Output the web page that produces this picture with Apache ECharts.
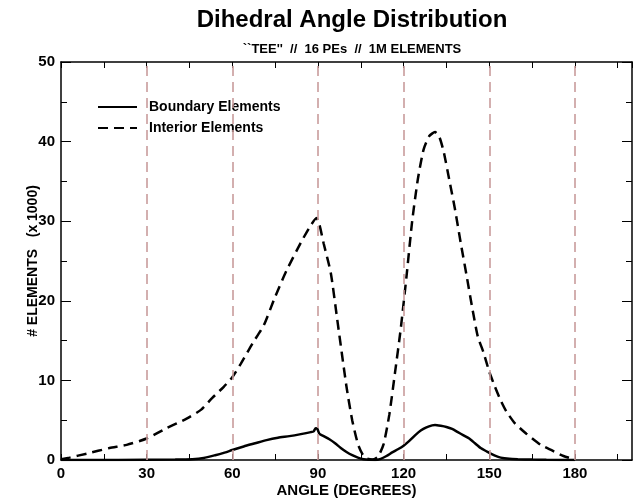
<!DOCTYPE html>
<html>
<head>
<meta charset="utf-8">
<script src="https://cdn.jsdelivr.net/npm/echarts@6/dist/echarts.min.js"></script>
<style>
  html, body { margin: 0; padding: 0; background: #fff; }
  #chart { width: 641px; height: 503px; }
</style>
</head>
<body>
<div id="chart"></div>
<script>
  // values (angle in degrees, count x 1000)
  var boundaryAngles = [0, 20, 40, 46, 50, 54, 57, 60, 64, 68, 72, 76, 80, 84, 87.5, 88.5, 89.2, 89.8, 90.5, 92, 94, 96, 98, 100, 102, 104, 106, 108, 110, 112, 114, 116, 118, 120, 122, 124, 126, 128, 130, 131, 133, 135, 137, 139, 141, 143, 145, 147, 149, 150, 152, 154, 157, 160, 165, 170, 180];
  var boundaryValues = [0, 0, 0.05, 0.1, 0.25, 0.6, 0.9, 1.25, 1.7, 2.1, 2.5, 2.8, 3.0, 3.25, 3.5, 3.6, 4.0, 3.9, 3.3, 3.0, 2.6, 2.1, 1.5, 1.0, 0.6, 0.3, 0.1, 0.02, 0, 0.15, 0.5, 0.95, 1.35, 1.8, 2.4, 3.1, 3.7, 4.1, 4.35, 4.4, 4.3, 4.15, 3.9, 3.5, 3.1, 2.7, 2.1, 1.5, 1.1, 0.9, 0.55, 0.3, 0.15, 0.1, 0.05, 0.02, 0];

  var interiorAngles = [0, 3, 9, 17, 23, 30, 37, 44, 49, 53, 57, 60, 63, 67, 71, 75, 79, 84, 87, 89.5, 90.5, 92, 94.5, 97, 100, 102, 104, 105.5, 107, 109, 111, 113, 115, 117, 119, 121, 123, 125, 127, 129, 131, 132.5, 134, 136, 138, 140, 142, 144, 146, 148, 150, 152, 154, 156, 159, 163, 168, 172, 176, 180];
  var interiorValues = [0.1, 0.3, 0.8, 1.5, 1.9, 2.7, 4.0, 5.2, 6.3, 7.8, 9.2, 10.4, 12.1, 14.6, 16.9, 20.5, 23.8, 27.3, 29.2, 30.4, 29.6, 27.2, 23.5, 17, 9.2, 5.0, 2.0, 0.8, 0.2, 0.05, 0.4, 2.0, 5.7, 11, 16.5, 23, 30, 35.3, 39, 40.7, 41.2, 40.6, 38.8, 35.2, 31.5, 27.3, 23.3, 19.2, 15.5, 13.5, 11.1, 9.2, 7.5, 6.1, 4.6, 3.3, 1.9, 1.2, 0.5, 0.05];

  var refAngles = [30, 60, 90, 120, 150, 180];

  function pairs(xs, ys) {
    return xs.map(function (x, i) { return [x, ys[i]]; });
  }

  var font = 'Liberation Sans, Arial, sans-serif';
  var myChart = echarts.init(document.getElementById('chart'));

  var xBase = {
    type: 'value', min: 0, max: 200, interval: 15,
    axisLine: { show: true, onZero: false, lineStyle: { color: '#000', width: 1.5 } },
    axisTick: { show: true, inside: true, length: 6, lineStyle: { color: '#000', width: 1 } },
    splitLine: { show: false }
  };
  var yBase = {
    type: 'value', min: 0, max: 50, interval: 10,
    axisLine: { show: true, onZero: false, lineStyle: { color: '#000', width: 1.5 } },
    axisTick: { show: true, inside: true, length: 10, lineStyle: { color: '#000', width: 1 } },
    minorTick: { show: true, splitNumber: 2, length: 6, lineStyle: { color: '#000', width: 1 } },
    splitLine: { show: false }
  };

  var option = {
    animation: false,
    backgroundColor: '#fff',
    title: [{
      text: 'Dihedral Angle Distribution',
      left: 347, top: 3, textAlign: 'center',
      textStyle: { fontFamily: font, fontWeight: 'bold', fontSize: 24, color: '#000' }
    }, {
      text: '``TEE\'\'  //  16 PEs  //  1M ELEMENTS',
      left: 347, top: 38, textAlign: 'center',
      textStyle: { fontFamily: font, fontWeight: 'bold', fontSize: 13, color: '#000' }
    }],
    legend: {
      orient: 'vertical', left: 92, top: 95,
      itemWidth: 39, itemHeight: 14, itemGap: 7,
      itemStyle: { opacity: 0 },
      textStyle: { fontFamily: font, fontWeight: 'bold', fontSize: 14, color: '#000', padding: [0, 0, 0, 7] },
      data: ['Boundary Elements', 'Interior Elements']
    },
    grid: { left: 61, right: 9, top: 62, bottom: 41, containLabel: false },
    xAxis: [
      Object.assign({}, xBase, {
        position: 'bottom',
        name: 'ANGLE (DEGREES)', nameLocation: 'middle', nameGap: 23, nameMoveOverlap: false,
        nameTextStyle: { fontFamily: font, fontWeight: 'bold', fontSize: 15, color: '#000' },
        axisLabel: {
          margin: 6, showMaxLabel: false,
          fontFamily: font, fontWeight: 'bold', fontSize: 15, color: '#000',
          formatter: function (v) { return (v % 30 === 0 && v <= 180) ? String(v) : ''; }
        }
      }),
      Object.assign({}, xBase, { position: 'top', axisLabel: { show: false } })
    ],
    yAxis: [
      Object.assign({}, yBase, {
        position: 'left',
        name: '# ELEMENTS   (x 1000)', nameLocation: 'middle', nameGap: 21, nameMoveOverlap: false,
        nameTextStyle: { fontFamily: font, fontWeight: 'bold', fontSize: 14, color: '#000' },
        axisLabel: { margin: 6, fontFamily: font, fontWeight: 'bold', fontSize: 15, color: '#000' }
      }),
      Object.assign({}, yBase, { position: 'right', axisLabel: { show: false } })
    ],
    series: [{
      name: 'refs',
      type: 'line',
      data: [],
      z: 1,
      markLine: {
        silent: true, symbol: 'none',
        label: { show: false },
        lineStyle: { color: '#c99c9c', width: 1.6, type: [10, 6] },
        data: refAngles.map(function (a) { return { xAxis: a }; })
      }
    }, {
      name: 'Boundary Elements',
      type: 'line',
      data: pairs(boundaryAngles, boundaryValues),
      showSymbol: false, symbol: 'none', smooth: 0.2, z: 3,
      lineStyle: { color: '#000', width: 2.5 },
      itemStyle: { color: '#000' }
    }, {
      name: 'Interior Elements',
      type: 'line',
      data: pairs(interiorAngles, interiorValues),
      showSymbol: false, symbol: 'none', smooth: 0.2, z: 3,
      lineStyle: { color: '#000', width: 2.5, type: [10, 6] },
      itemStyle: { color: '#000' }
    }]
  };
  myChart.setOption(option);
</script>
</body>
</html>
